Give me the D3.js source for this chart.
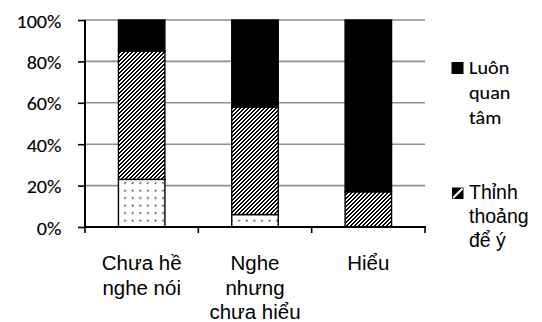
<!DOCTYPE html>
<html>
<head>
<meta charset="utf-8">
<script src="https://cdn.jsdelivr.net/npm/d3@7/dist/d3.min.js"></script>
<style>
  html, body { margin: 0; padding: 0; background: #fff; }
  svg { display: block; }
</style>
</head>
<body>
<svg id="chart" width="542" height="322"></svg>
<script>
// Categories (line breaks mark wrapped labels)
const categories = ["Chưa hề\nnghe nói", "Nghe\nnhưng\nchưa hiểu", "Hiểu"];
// Stacked series, bottom to top, in percent
const seriesNames = ["Chưa để ý", "Thỉnh thoảng để ý", "Luôn quan tâm"];
const chuaDeY      = [23, 6, 0];
const thinhThoang  = [62, 52, 17];
const luonQuanTam  = [15, 42, 83];
const yTicks = [0, 20, 40, 60, 80, 100];
const legendLines = [["Luôn", "quan", "tâm"], ["Thỉnh", "thoảng", "để ý"]];

const svg = d3.select("#chart");
const plotLeft = 85, plotRight = 425, plotTop = 20, plotBottom = 227;

const x = d3.scaleBand().domain(categories).range([plotLeft, plotRight]).padding(0);
const y = d3.scaleLinear().domain([0, 100]).range([plotBottom, plotTop]);
const barW = x.bandwidth() * 0.41;

// Fill patterns
const defs = svg.append("defs");
const dots = defs.append("pattern").attr("id", "dots")
  .attr("patternUnits", "userSpaceOnUse").attr("width", 7.6).attr("height", 7.5)
  .attr("x", 1).attr("y", 0.5);
dots.append("rect").attr("width", 7.6).attr("height", 7.5).attr("fill", "#fff");
dots.append("circle").attr("cx", 2.5).attr("cy", 2.5).attr("r", 0.95).attr("fill", "#333");

// Pixel-aligned upward diagonal stripes (4px period, half black)
const hatch = defs.append("pattern").attr("id", "hatch")
  .attr("patternUnits", "userSpaceOnUse").attr("width", 4).attr("height", 4);
hatch.append("rect").attr("width", 4).attr("height", 4).attr("fill", "#fff");
d3.range(4).forEach(r => {
  [0, 1].forEach(k => {
    hatch.append("rect")
      .attr("x", (3 - r + k) % 4).attr("y", r)
      .attr("width", 1).attr("height", 1)
      .attr("fill", "#000").attr("shape-rendering", "crispEdges");
  });
});

const fills = ["url(#dots)", "url(#hatch)", "#000"];

// Gridlines
svg.append("g").selectAll("line").data(yTicks.filter(d => d > 0)).join("line")
  .attr("x1", plotLeft).attr("x2", plotRight)
  .attr("y1", d => y(d)).attr("y2", d => y(d))
  .attr("stroke", "#8f8f8f").attr("stroke-width", 1.6);

// Stacked bars
const table = categories.map((c, i) => ({
  cat: c,
  [seriesNames[0]]: chuaDeY[i],
  [seriesNames[1]]: thinhThoang[i],
  [seriesNames[2]]: luonQuanTam[i]
}));
const stacked = d3.stack().keys(seriesNames)(table);

svg.append("g").selectAll("g").data(stacked).join("g")
  .attr("fill", (d, i) => fills[i])
  .selectAll("rect").data(d => d.filter(s => s[1] - s[0] > 0)).join("rect")
  .attr("x", d => x(d.data.cat) + (x.bandwidth() - barW) / 2)
  .attr("width", barW)
  .attr("y", d => y(d[1]))
  .attr("height", d => y(d[0]) - y(d[1]))
  .attr("stroke", "#000").attr("stroke-width", 1.4);

// Y axis
const yAxis = svg.append("g").attr("transform", `translate(${plotLeft},0)`)
  .call(d3.axisLeft(y).tickValues(yTicks).tickSize(7).tickFormat(d => d + "%"));
yAxis.select(".domain").attr("stroke", "#000").attr("stroke-width", 2)
  .attr("d", `M0,${plotTop}V${plotBottom}`);
yAxis.selectAll(".tick line").attr("stroke", "#000").attr("stroke-width", 1.6);
yAxis.selectAll(".tick text")
  .attr("x", null).attr("dy", null)
  .attr("transform", "translate(-23.5,7) scale(1.12,1)")
  .attr("font-family", "Carlito, Lato, sans-serif").attr("font-size", "18px")
  .attr("fill", "#000").attr("stroke", "#000").attr("stroke-width", 0.1);

// X axis line with boundary ticks
svg.append("line").attr("x1", plotLeft - 1).attr("x2", plotRight + 1)
  .attr("y1", plotBottom).attr("y2", plotBottom)
  .attr("stroke", "#000").attr("stroke-width", 2);
const bounds = categories.map(c => x(c)).concat([plotRight]);
svg.append("g").selectAll("line").data(bounds).join("line")
  .attr("x1", d => d).attr("x2", d => d)
  .attr("y1", plotBottom).attr("y2", plotBottom + 6)
  .attr("stroke", "#000").attr("stroke-width", 1.6);

// Category labels
const catLabels = svg.append("g");
categories.forEach(c => {
  const cx = x(c) + x.bandwidth() / 2;
  c.split("\n").forEach((line, j) => {
    catLabels.append("text")
      .attr("transform", `translate(${cx},${270 + j * 24.5}) scale(1.05,1)`)
      .attr("text-anchor", "middle")
      .attr("font-family", "'Liberation Sans', Arial, sans-serif")
      .attr("font-size", "19.5px").attr("fill", "#000")
      .text(line);
  });
});

// Legend
const legend = svg.append("g");
// Luôn quan tâm
legend.append("rect").attr("x", 451.5).attr("y", 62).attr("width", 12).attr("height", 12)
  .attr("fill", fills[2]);
legendLines[0].forEach((t, j) => {
  legend.append("text")
    .attr("transform", `translate(469,${74 + j * 25}) scale(1.12,1)`)
    .attr("font-family", "Carlito, Lato, sans-serif").attr("font-size", "18px")
    .attr("fill", "#000").attr("stroke", "#000").attr("stroke-width", 0.1)
    .text(t);
});
// Thỉnh thoảng để ý
legend.append("rect").attr("x", 452).attr("y", 187.5).attr("width", 11.5).attr("height", 11.5)
  .attr("fill", "#000");
legend.append("line").attr("x1", 453).attr("y1", 198).attr("x2", 462.5).attr("y2", 188.5)
  .attr("stroke", "#fff").attr("stroke-width", 2);
legendLines[1].forEach((t, j) => {
  legend.append("text")
    .attr("transform", `translate(469,${198.5 + j * 24.3})`)
    .attr("font-family", "'Liberation Sans', Arial, sans-serif").attr("font-size", "19.5px")
    .attr("fill", "#000").text(t);
});
</script>
</body>
</html>
